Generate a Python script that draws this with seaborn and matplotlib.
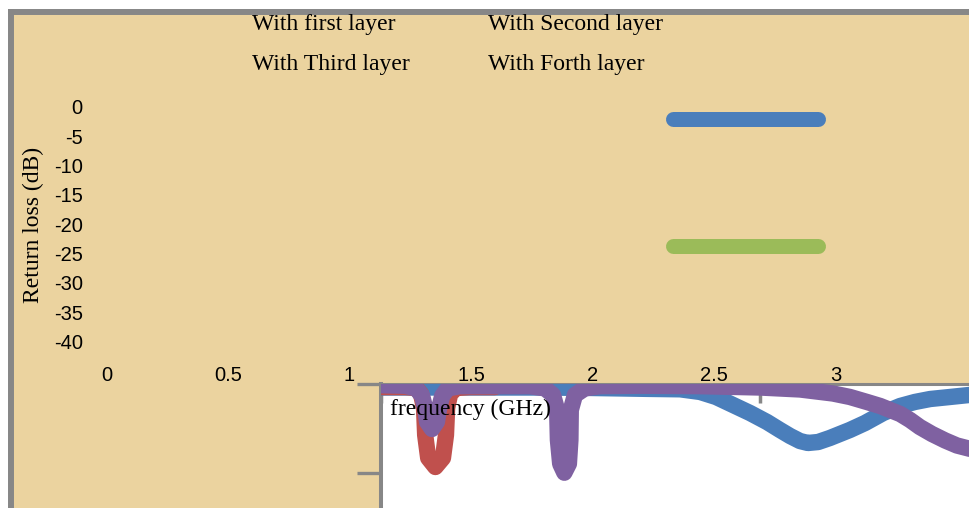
import matplotlib
matplotlib.use('Agg')

import matplotlib.pyplot as plt
import seaborn as sns
import pandas as pd

sns.set_theme(style="white", rc={'axes.grid': False})
plt.rcParams['font.family'] = ['Liberation Serif', 'DejaVu Serif']

W, H = 969, 508

series = ["With first layer", "With Second layer", "With Third layer", "With Forth layer"]
colors = ["#4a7ebb", "#c0504d", "#9bbb59", "#7f61a1"]

# outer scale (tick labels left over from the chart frame)
y_ticks = [0, -5, -10, -15, -20, -25, -30, -35, -40]
x_ticks = [0, 0.5, 1, 1.5, 2, 2.5, 3]
x_tick_labels = ["0", "0.5", "1", "1.5", "2", "2.5", "3"]

# curves in the white plot box: frequency (GHz) / return loss (dB)
first_f = [1.000, 1.102, 1.420, 1.552, 1.700, 1.790, 1.843, 1.885, 1.930, 1.975,
           2.020, 2.054, 2.081, 2.107, 2.128, 2.155, 2.186, 2.239, 2.279, 2.327,
           2.372, 2.411, 2.451, 2.504, 2.554, 2.636, 2.800]
first_rl = [-0.45, -0.45, -0.45, -0.50, -0.60, -0.65, -0.95, -1.51, -2.41, -3.31,
            -4.32, -5.21, -5.89, -6.45, -6.67, -6.56, -6.11, -5.21, -4.43, -3.31,
            -2.52, -2.07, -1.74, -1.51, -1.29, -1.07, -0.80]

second_f = [1.000, 1.063, 1.092, 1.105, 1.113, 1.116, 1.124, 1.143, 1.163, 1.171,
            1.174, 1.182, 1.198, 1.235, 1.300]
second_rl = [-0.40, -0.40, -0.50, -1.18, -2.75, -5.77, -8.35, -9.36, -8.35, -5.77,
             -2.75, -1.18, -0.50, -0.40, -0.40]

forth_f = [1.000, 1.063, 1.092, 1.108, 1.116, 1.121, 1.134, 1.147, 1.153, 1.161,
           1.176, 1.208, 1.393, 1.433, 1.454, 1.465, 1.467, 1.473, 1.484, 1.496,
           1.500, 1.501, 1.512, 1.538, 1.578, 1.684, 1.843, 2.001, 2.107, 2.194,
           2.239, 2.284, 2.319, 2.372, 2.398, 2.424, 2.456, 2.491, 2.522, 2.554,
           2.636, 2.800]
forth_rl = [-0.20, -0.25, -0.55, -1.40, -2.75, -4.30, -5.10, -4.30, -2.75, -1.40,
            -0.55, -0.30, -0.30, -0.55, -1.29, -2.97, -6.33, -9.00, -10.00, -9.00,
            -6.33, -2.97, -1.29, -0.55, -0.30, -0.25, -0.30, -0.45, -0.67, -1.12,
            -1.51, -2.07, -2.52, -3.42, -4.09, -4.88, -5.66, -6.39, -6.95, -7.30,
            -8.02, -8.60]

# legend keys that were drawn on the right of the frame
key_f = [2.331, 2.928]
key_first = [-2.09, -2.09]
key_third = [-23.7, -23.7]


def box(l, t, r, b):
    return [l / W, 1 - b / H, (r - l) / W, (b - t) / H]


fig = plt.figure(figsize=(W / 100, H / 100), dpi=100)
fig.patch.set_facecolor('white')

# chart frame with paper background
frame = fig.add_axes(box(11, 12, 1200, 800))
frame.set_facecolor('#ebd39f')
frame.set_xticks([])
frame.set_yticks([])
for side in ['left', 'top']:
    frame.spines[side].set_color('#878787')
    frame.spines[side].set_linewidth(4.3)
for side in ['right', 'bottom']:
    frame.spines[side].set_visible(False)

# scale axes carrying the tick labels and the stray legend keys
sc = fig.add_axes(box(87, 12, 969, 362))
sc.set_facecolor('none')
sc.set_xlim(-0.0802, 3.549)
sc.set_ylim(-43.46, 16.12)
sc.set_xticks(x_ticks, labels=x_tick_labels)
sc.set_yticks(y_ticks, labels=[str(v) for v in y_ticks])
sc.tick_params(length=0, pad=3, labelsize=14.5, colors='black')
for lab in sc.get_xticklabels() + sc.get_yticklabels():
    lab.set_family('Liberation Sans')
for s in sc.spines.values():
    s.set_visible(False)
sns.lineplot(x=key_f, y=key_first, color=colors[0], lw=10.8, ax=sc,
             solid_capstyle='round')
sns.lineplot(x=key_f, y=key_third, color=colors[2], lw=10.8, ax=sc,
             solid_capstyle='round')

# white plot box
inner = fig.add_axes(box(381.3, 383.5, 1137.7, 561.9))
inner.set_facecolor('white')
inner.set_xlim(1, 3)
inner.set_ylim(-20, 0)

df = pd.concat([
    pd.DataFrame({'f': first_f, 'rl': first_rl, 'series': series[0]}),
    pd.DataFrame({'f': second_f, 'rl': second_rl, 'series': series[1]}),
    pd.DataFrame({'f': forth_f, 'rl': forth_rl, 'series': series[3]}),
], ignore_index=True)

sns.lineplot(data=df, x='f', y='rl', hue='series',
             hue_order=[series[0], series[1], series[3]],
             palette=dict(zip(series, colors)),
             sort=False, estimator=None, lw=11.8, legend=False, ax=inner,
             solid_capstyle='round', solid_joinstyle='round')
for ln in inner.lines:
    ln.set_zorder(3)

inner.set_xlabel('')
inner.set_ylabel('')
inner.spines['left'].set_color('#878787')
inner.spines['left'].set_linewidth(2.9)
inner.spines['top'].set_color('#878787')
inner.spines['top'].set_linewidth(2.2)
inner.spines['right'].set_visible(False)
inner.spines['bottom'].set_visible(False)
inner.set_yticks([0, -10, -20])
inner.set_xticks([1, 2, 3])
inner.tick_params(axis='y', left=True, direction='out', length=17.3, width=2.4,
                  color='#878787', labelleft=False)
inner.tick_params(axis='x', top=True, bottom=False, direction='in', length=13.7,
                  width=2.5, color='#878787', labelbottom=False, labeltop=False)

# texts
legend_pos = [(252, 30), (488, 30), (252, 70), (488, 70)]
for name, (px, py) in zip(series, legend_pos):
    fig.text(px / W, 1 - py / H, name, ha='left', va='baseline', fontsize=17,
             color='black')
fig.text(33 / W, 1 - 225 / H, 'Return loss (dB)', rotation=90, ha='center',
         va='center', fontsize=17, color='black')
fig.text(390 / W, 1 - 415 / H, 'frequency (GHz)', ha='left', va='baseline',
         fontsize=17, color='black')

fig.savefig('out.png', dpi=100)
